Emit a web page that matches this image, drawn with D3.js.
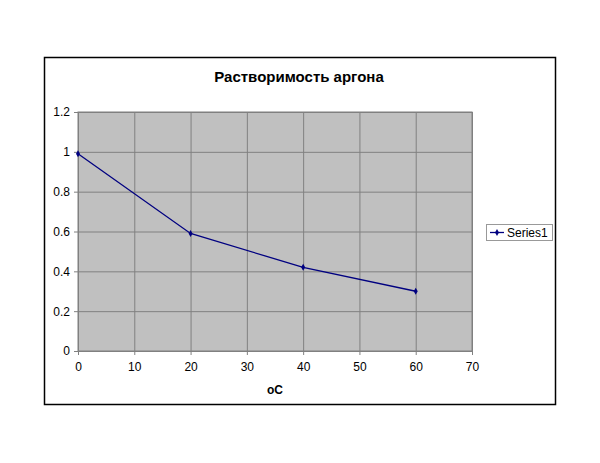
<!DOCTYPE html>
<html>
<head>
<meta charset="utf-8">
<script src="https://cdn.jsdelivr.net/npm/d3@7"></script>
<style>
  body { margin: 0; background: #fff; }
  text { font-family: Arial, "Liberation Sans", sans-serif; }
</style>
</head>
<body>
<script>
// data
var temps = [0, 20, 40, 60];
var solubility = [0.99, 0.59, 0.42, 0.30];
var xTicks = [0, 10, 20, 30, 40, 50, 60, 70];
var yTicks = [0, 0.2, 0.4, 0.6, 0.8, 1, 1.2];
var seriesName = "Series1";
var chartTitle = "Растворимость аргона";
var xTitle = "oC";

var W = 600, H = 463;
var plot = {left: 78, top: 112, right: 472, bottom: 351};

var svg = d3.select("body").append("svg")
    .attr("width", W).attr("height", H);

// outer chart frame
svg.append("rect")
    .attr("x", 44.5).attr("y", 57.5)
    .attr("width", 511).attr("height", 347)
    .attr("fill", "#fff").attr("stroke", "#000").attr("stroke-width", 1.5);

var xScale = d3.scaleLinear().domain([0, 70]).range([plot.left, plot.right]);
var yScale = d3.scaleLinear().domain([0, 1.2]).range([plot.bottom, plot.top]);

// plot area
svg.append("rect")
    .attr("x", plot.left).attr("y", plot.top)
    .attr("width", plot.right - plot.left).attr("height", plot.bottom - plot.top)
    .attr("fill", "#c0c0c0").attr("stroke", "#808080");

// gridlines
svg.append("g")
    .attr("transform", "translate(0," + plot.bottom + ")")
    .call(d3.axisBottom(xScale).tickValues(xTicks).tickSize(-(plot.bottom - plot.top)).tickFormat(""))
    .call(function(g) { g.select(".domain").remove(); })
    .selectAll("line").attr("stroke", "#808080");

svg.append("g")
    .attr("transform", "translate(" + plot.left + ",0)")
    .call(d3.axisLeft(yScale).tickValues(yTicks).tickSize(-(plot.right - plot.left)).tickFormat(""))
    .call(function(g) { g.select(".domain").remove(); })
    .selectAll("line").attr("stroke", "#808080");

// axes
var gx = svg.append("g")
    .attr("transform", "translate(0," + plot.bottom + ")")
    .call(d3.axisBottom(xScale).tickValues(xTicks).tickSize(4).tickSizeOuter(0).tickPadding(7));
gx.select(".domain").attr("stroke", "#808080");
gx.selectAll(".tick line").attr("stroke", "#808080");
gx.selectAll("text").attr("font-size", "12px").attr("fill", "#000")
    .attr("font-family", "Arial, 'Liberation Sans', sans-serif");

var gy = svg.append("g")
    .attr("transform", "translate(" + plot.left + ",0)")
    .call(d3.axisLeft(yScale).tickValues(yTicks).tickSize(4).tickSizeOuter(0).tickPadding(4)
        .tickFormat(function(d) { return String(+d.toFixed(1)); }));
gy.select(".domain").attr("stroke", "#808080");
gy.selectAll(".tick line").attr("stroke", "#808080");
gy.selectAll("text").attr("font-size", "12px").attr("fill", "#000")
    .attr("font-family", "Arial, 'Liberation Sans', sans-serif");

// title and axis title
svg.append("text")
    .attr("x", 299).attr("y", 82)
    .attr("text-anchor", "middle")
    .attr("font-size", "15px").attr("font-weight", "bold")
    .text(chartTitle);

svg.append("text")
    .attr("x", 275).attr("y", 394)
    .attr("text-anchor", "middle")
    .attr("font-size", "12px").attr("font-weight", "bold")
    .text(xTitle);

// series line
var pts = temps.map(function(t, i) { return {x: t, y: solubility[i]}; });
var line = d3.line()
    .x(function(d) { return xScale(d.x); })
    .y(function(d) { return yScale(d.y); });

svg.append("path")
    .datum(pts)
    .attr("d", line)
    .attr("fill", "none")
    .attr("stroke", "#000080")
    .attr("stroke-width", 1.3);

var diamond = d3.symbol().type(d3.symbolDiamond).size(14);
svg.selectAll(".dot")
    .data(pts)
  .enter().append("path")
    .attr("class", "dot")
    .attr("d", diamond)
    .attr("transform", function(d) { return "translate(" + xScale(d.x) + "," + yScale(d.y) + ")"; })
    .attr("fill", "#000080");

// legend
var legend = svg.append("g").attr("transform", "translate(486,224)");
legend.append("rect")
    .attr("x", 0.5).attr("y", 0.5)
    .attr("width", 66).attr("height", 16)
    .attr("fill", "#fff").attr("stroke", "#999");
legend.append("line")
    .attr("x1", 4).attr("x2", 18).attr("y1", 8.5).attr("y2", 8.5)
    .attr("stroke", "#000080").attr("stroke-width", 1.3);
legend.append("path")
    .attr("d", diamond)
    .attr("transform", "translate(11,8.5)")
    .attr("fill", "#000080");
legend.append("text")
    .attr("x", 21).attr("y", 12.5)
    .attr("font-size", "12px")
    .text(seriesName);
</script>
</body>
</html>
